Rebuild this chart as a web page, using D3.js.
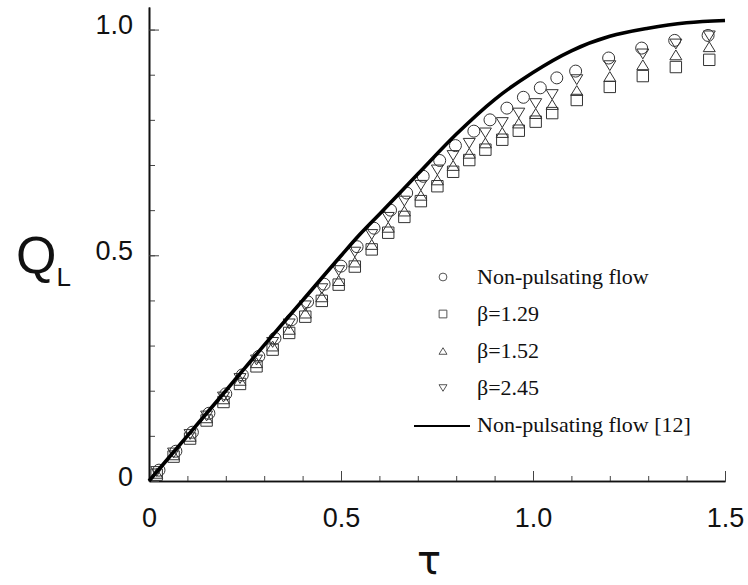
<!DOCTYPE html>
<html>
<head>
<meta charset="utf-8">
<script src="https://cdn.jsdelivr.net/npm/d3@7"></script>
<style>
  body { margin: 0; background: #fff; }
  svg { display: block; }
</style>
</head>
<body>
<div id="chart"></div>
<script>
// tau positions of the measured points (squares / triangles share them)
var tauPts = [0.020, 0.064, 0.107, 0.150, 0.194, 0.237, 0.280, 0.322, 0.365, 0.407,
              0.450, 0.494, 0.536, 0.580, 0.623, 0.665, 0.708, 0.751, 0.792, 0.834,
              0.876, 0.920, 0.963, 1.007, 1.050, 1.114, 1.200, 1.286, 1.372, 1.459];
// circles sit a touch to the side of the others
var tauCircle = [0.026, 0.070, 0.113, 0.156, 0.200, 0.243, 0.286, 0.328, 0.371, 0.413,
                 0.456, 0.500, 0.542, 0.586, 0.629, 0.671, 0.714, 0.757, 0.798, 0.846,
                 0.888, 0.932, 0.975, 1.019, 1.062, 1.111, 1.197, 1.283, 1.369, 1.456];

var qNonPulsating = [0.024, 0.066, 0.108, 0.150, 0.193, 0.235, 0.276, 0.316, 0.357, 0.397,
                     0.436, 0.476, 0.519, 0.560, 0.600, 0.638, 0.675, 0.710, 0.743, 0.775,
                     0.800, 0.826, 0.850, 0.871, 0.893, 0.908, 0.937, 0.959, 0.976, 0.987];
var qBeta129 = [0.014, 0.054, 0.094, 0.134, 0.175, 0.215, 0.254, 0.291, 0.328, 0.364,
                0.399, 0.435, 0.475, 0.513, 0.550, 0.585, 0.620, 0.653, 0.685, 0.711,
                0.734, 0.756, 0.776, 0.796, 0.815, 0.844, 0.873, 0.897, 0.917, 0.933];
var qBeta152 = [0.017, 0.058, 0.099, 0.140, 0.182, 0.223, 0.262, 0.299, 0.336, 0.372,
                0.408, 0.444, 0.485, 0.524, 0.562, 0.598, 0.633, 0.667, 0.699, 0.726,
                0.749, 0.772, 0.793, 0.814, 0.834, 0.865, 0.896, 0.922, 0.944, 0.962];
var qBeta245 = [0.021, 0.062, 0.103, 0.144, 0.186, 0.227, 0.268, 0.307, 0.348, 0.388,
                0.426, 0.466, 0.507, 0.546, 0.584, 0.620, 0.655, 0.689, 0.721, 0.748,
                0.771, 0.794, 0.815, 0.836, 0.856, 0.889, 0.920, 0.946, 0.968, 0.986];

// reference curve, non-pulsating flow [12]
var curveTau = [0, 0.1, 0.2, 0.3, 0.4, 0.5, 0.55, 0.6, 0.7, 0.8, 0.9, 1.0, 1.1, 1.2, 1.3, 1.4, 1.5];
var curveQ   = [0, 0.100, 0.200, 0.301, 0.400, 0.499, 0.547, 0.591, 0.680, 0.768, 0.845, 0.905, 0.953, 0.985, 1.003, 1.015, 1.020];

var xTicks = [0, 0.5, 1.0, 1.5];
var xTickLabels = ["0", "0.5", "1.0", "1.5"];
var yTicks = [0, 0.5, 1.0];
var yTickLabels = ["0", "0.5", "1.0"];

var legendLabels = ["Non-pulsating flow", "\u03b2=1.29", "\u03b2=1.52", "\u03b2=2.45", "Non-pulsating flow [12]"];

var width = 748, height = 585;
var margin = {left: 149, right: 23, top: 7, bottom: 104};

var svg = d3.select("#chart")
    .append("svg")
    .attr("width", width)
    .attr("height", height);

var x = d3.scaleLinear()
    .domain([0, 1.5])
    .range([margin.left, width - margin.right]);
var y = d3.scaleLinear()
    .domain([0, 1.05])
    .range([height - margin.bottom, margin.top]);

// triangles centred on their bounding box, like the original plot
var triUp = {
    draw: function(ctx, size) {
        var w = Math.sqrt(size), h = w * 0.82;
        ctx.moveTo(0, -h / 2);
        ctx.lineTo(w / 2, h / 2);
        ctx.lineTo(-w / 2, h / 2);
        ctx.closePath();
    }
};
var triDown = {
    draw: function(ctx, size) {
        var w = Math.sqrt(size), h = w * 0.82;
        ctx.moveTo(0, h / 2);
        ctx.lineTo(w / 2, -h / 2);
        ctx.lineTo(-w / 2, -h / 2);
        ctx.closePath();
    }
};

var series = [
    {tau: tauCircle, q: qNonPulsating, type: d3.symbolCircle, size: 113, lsize: 48},
    {tau: tauPts, q: qBeta129, type: d3.symbolSquare, size: 130, lsize: 60},
    {tau: tauPts, q: qBeta152, type: triUp, size: 144, lsize: 64},
    {tau: tauPts, q: qBeta245, type: triDown, size: 144, lsize: 64}
];

// axes
var xAxis = d3.axisBottom(x).tickValues(xTicks)
    .tickFormat(function(d, i) { return xTickLabels[i]; })
    .tickSizeInner(-10).tickSizeOuter(0).tickPadding(27);
var xMinor = d3.axisBottom(x).tickValues(d3.range(0, 16).map(function(i) { return i / 10; }))
    .tickFormat("").tickSizeInner(-5).tickSizeOuter(0);
var yAxis = d3.axisLeft(y).tickValues(yTicks)
    .tickFormat(function(d, i) { return yTickLabels[i]; })
    .tickSizeInner(-10).tickSizeOuter(0).tickPadding(16);
var yMinor = d3.axisLeft(y).tickValues(d3.range(0, 11).map(function(i) { return i / 10; }))
    .tickFormat("").tickSizeInner(-6).tickSizeOuter(0);

var gx = svg.append("g").attr("transform", "translate(0," + y(0) + ")");
gx.call(xMinor);
gx.append("g").call(xAxis);
var gy = svg.append("g").attr("transform", "translate(" + x(0) + ",0)");
gy.call(yMinor);
gy.append("g").call(yAxis);

svg.selectAll(".domain").attr("stroke", "#111").attr("stroke-width", 1.6);
svg.selectAll(".tick line").attr("stroke", "#444").attr("stroke-width", 1);
svg.selectAll(".tick text")
    .attr("font-family", "Liberation Sans, Arial, sans-serif")
    .attr("font-size", 27)
    .attr("fill", "#111");
gy.selectAll(".tick text").attr("dy", "0.16em");

// measured points
series.forEach(function(s) {
    svg.append("g").selectAll("path")
        .data(s.tau.map(function(t, i) { return [t, s.q[i]]; }))
        .enter().append("path")
        .attr("transform", function(d) { return "translate(" + x(d[0]) + "," + y(d[1]) + ")"; })
        .attr("d", d3.symbol().type(s.type).size(s.size))
        .attr("fill", "none")
        .attr("stroke", "#333")
        .attr("stroke-width", 1);
});

// reference curve
var line = d3.line()
    .x(function(d) { return x(d[0]); })
    .y(function(d) { return y(d[1]); })
    .curve(d3.curveMonotoneX);
svg.append("path")
    .datum(curveTau.map(function(t, i) { return [t, curveQ[i]]; }))
    .attr("d", line)
    .attr("fill", "none")
    .attr("stroke", "#000")
    .attr("stroke-width", 3.6);

// legend
var leg = svg.append("g").attr("transform", "translate(443,277)");
var rowH = 37;
series.forEach(function(s, i) {
    leg.append("path")
        .attr("transform", "translate(0," + i * rowH + ")")
        .attr("d", d3.symbol().type(s.type).size(s.lsize))
        .attr("fill", "none")
        .attr("stroke", "#555")
        .attr("stroke-width", 1);
});
leg.append("line")
    .attr("x1", -29).attr("x2", 27)
    .attr("y1", 4 * rowH + 1).attr("y2", 4 * rowH + 1)
    .attr("stroke", "#000").attr("stroke-width", 2.2);
leg.selectAll("text")
    .data(legendLabels)
    .enter().append("text")
    .attr("x", 34)
    .attr("y", function(d, i) { return i * rowH + 7; })
    .attr("font-family", "Liberation Serif, Times New Roman, serif")
    .attr("font-size", 22)
    .attr("fill", "#111")
    .text(function(d) { return d; });

// axis titles
var qt = svg.append("text")
    .attr("x", 16).attr("y", 273)
    .attr("font-family", "Liberation Sans, Arial, sans-serif")
    .attr("font-size", 52)
    .attr("fill", "#111");
qt.append("tspan").text("Q");
qt.append("tspan").attr("font-size", 26).attr("dy", 13).text("L");

svg.append("text")
    .attr("x", 429).attr("y", 574)
    .attr("text-anchor", "middle")
    .attr("font-family", "DejaVu Sans, sans-serif")
    .attr("font-size", 40)
    .attr("fill", "#111")
    .text("\u03c4");
</script>
</body>
</html>
